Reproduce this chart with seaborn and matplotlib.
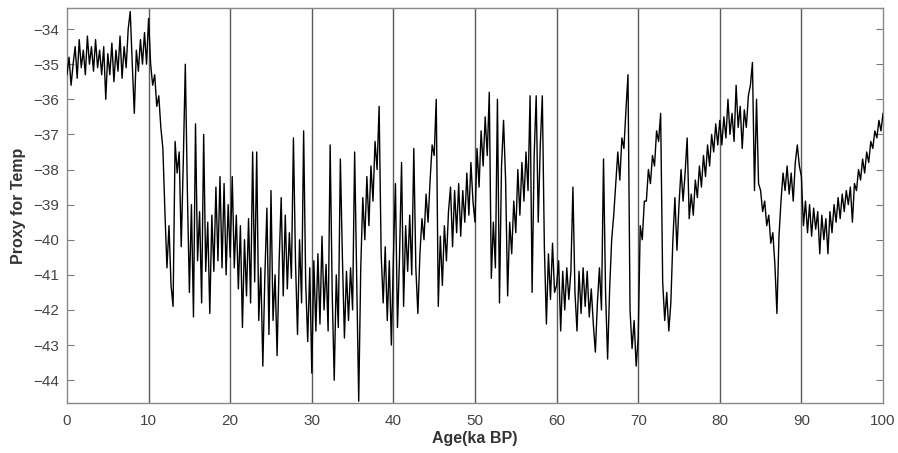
import numpy as np
import matplotlib
matplotlib.use("Agg")
import matplotlib.pyplot as plt
import seaborn as sns

proxy_00_10 = [-35.3, -34.8, -35.6, -35.0, -34.5, -35.4, -34.3, -35.1, -34.6, -35.3,
               -34.2, -35.0, -34.5, -35.2, -34.3, -35.1, -34.6, -35.3, -34.5, -36.0,
               -34.7, -35.3, -34.4, -35.5, -34.6, -35.2, -34.2, -35.4, -34.5, -35.1,
               -34.0, -33.5, -35.0, -36.4, -34.6, -35.2, -34.3, -35.0, -34.1, -35.0]
proxy_10_20 = [-33.7, -35.0, -35.6, -35.3, -36.2, -35.9, -36.8, -37.4, -39.2, -40.8,
               -39.6, -41.3, -41.9, -37.2, -38.1, -37.5, -40.2, -37.8, -35.0, -38.6,
               -41.5, -39.0, -42.2, -36.7, -40.6, -39.2, -41.8, -37.0, -40.9, -39.5,
               -42.1, -39.3, -40.9, -38.5, -40.6, -38.2, -40.8, -38.4, -41.0, -39.0]
proxy_20_30 = [-40.5, -38.2, -40.8, -39.3, -41.4, -39.6, -42.5, -40.0, -41.6, -39.4,
               -41.8, -37.5, -41.2, -37.5, -42.3, -40.8, -43.6, -41.0, -39.1, -42.7,
               -38.6, -42.3, -41.0, -43.3, -40.6, -38.8, -41.6, -39.3, -41.4, -39.8,
               -41.1, -37.1, -40.6, -42.7, -40.0, -41.8, -36.9, -41.2, -42.9, -40.8]
proxy_30_40 = [-43.8, -40.6, -42.6, -40.4, -42.4, -39.9, -42.0, -40.7, -42.6, -37.3,
               -41.5, -44.0, -41.0, -42.5, -37.7, -40.5, -42.8, -40.9, -42.3, -40.8,
               -42.0, -37.5, -41.0, -44.6, -40.8, -38.8, -40.0, -38.2, -39.6, -37.9,
               -38.9, -37.2, -38.0, -36.2, -40.4, -41.8, -40.2, -42.3, -40.6, -43.0]
proxy_40_50 = [-40.5, -38.4, -42.5, -40.5, -37.8, -41.9, -39.6, -40.9, -39.3, -41.0,
               -37.4, -40.8, -42.1, -40.4, -39.4, -40.0, -38.7, -39.5, -38.3, -37.3,
               -37.6, -36.0, -41.9, -39.9, -41.3, -39.6, -40.6, -39.2, -38.5, -40.2,
               -38.6, -39.8, -38.4, -39.9, -38.6, -39.5, -38.1, -39.3, -37.8, -38.9]
proxy_50_60 = [-39.5, -37.4, -38.5, -36.9, -37.9, -36.5, -37.6, -35.8, -41.1, -39.5,
               -40.8, -36.0, -41.8, -37.9, -36.6, -38.3, -41.6, -39.5, -40.4, -38.9,
               -39.8, -38.0, -39.3, -37.8, -38.9, -37.5, -38.6, -35.9, -41.5, -37.6,
               -35.9, -39.5, -37.3, -35.9, -40.2, -42.4, -40.4, -41.7, -40.1, -41.5]
proxy_60_70 = [-41.3, -40.6, -42.6, -40.9, -42.0, -40.8, -41.7, -40.9, -38.5, -41.5,
               -42.6, -40.9, -42.1, -40.8, -41.9, -40.9, -42.2, -41.4, -42.4, -43.2,
               -41.8, -40.8, -42.0, -37.7, -41.5, -43.4, -41.4, -40.0, -39.3, -38.4,
               -37.5, -38.3, -37.1, -37.4, -36.3, -35.3, -42.0, -43.1, -42.3, -43.6]
proxy_70_80 = [-42.8, -39.6, -40.0, -38.9, -38.9, -38.0, -38.4, -37.6, -37.9, -36.9,
               -37.2, -36.4, -41.2, -42.3, -41.5, -42.6, -41.8, -40.0, -38.8, -40.3,
               -39.0, -38.0, -38.9, -38.1, -37.1, -39.4, -38.7, -39.3, -38.3, -38.8,
               -37.9, -38.5, -37.6, -38.2, -37.3, -37.9, -37.0, -37.5, -36.7, -37.3]
proxy_80_90 = [-36.6, -37.3, -36.5, -37.1, -36.0, -37.0, -36.4, -37.2, -35.6, -36.8,
               -36.2, -37.4, -36.3, -36.8, -35.9, -35.6, -34.95, -38.6, -36.0, -38.4,
               -38.6, -39.2, -38.9, -39.6, -39.3, -40.1, -39.8, -40.7, -42.1, -39.9,
               -38.9, -38.1, -38.6, -37.9, -38.7, -38.1, -38.9, -37.8, -37.3, -37.9]
proxy_90_100 = [-38.2, -39.6, -38.9, -39.8, -39.0, -39.9, -39.1, -39.7, -39.2, -40.4,
                -39.3, -40.0, -39.4, -40.4, -39.2, -39.8, -39.0, -39.5, -38.8, -39.4,
                -38.7, -39.2, -38.6, -39.0, -38.5, -39.5, -38.4, -38.6, -38.0, -38.3,
                -37.7, -38.1, -37.5, -37.8, -37.2, -37.4, -36.9, -37.1, -36.6, -36.9,
                -36.4]

proxy = np.array(proxy_00_10 + proxy_10_20 + proxy_20_30 + proxy_30_40 + proxy_40_50
                 + proxy_50_60 + proxy_60_70 + proxy_70_80 + proxy_80_90 + proxy_90_100)
age = np.arange(len(proxy)) * 0.25

x_ticks = [0, 10, 20, 30, 40, 50, 60, 70, 80, 90, 100]
y_ticks = [-44, -43, -42, -41, -40, -39, -38, -37, -36, -35, -34]

sns.set_style("white")
plt.rcParams["font.family"] = ["Liberation Sans", "DejaVu Sans"]

fig = plt.figure(figsize=(8.98, 4.53), dpi=100)
ax = fig.add_axes([0.0746, 0.1104, 0.9087, 0.8719])

# gridlines at every 10 ka
for x in x_ticks[1:-1]:
    ax.axvline(x, color="#5a5a5a", lw=1.0, zorder=1)

sns.lineplot(x=age, y=proxy, estimator=None, sort=False, color="black", lw=1.0, ax=ax, zorder=3)

ax.set_xlim(0, 100)
ax.set_ylim(-44.65, -33.4)
ax.set_xticks(x_ticks)
ax.set_yticks(y_ticks)
ax.tick_params(axis="y", direction="in", length=5, width=0.8, color="#777777",
               labelsize=11, labelcolor="#444444", pad=6, right=True, left=True)
ax.tick_params(axis="x", direction="in", length=0, labelsize=11, labelcolor="#444444", pad=8)
for side in ax.spines.values():
    side.set_color("#888888")
    side.set_linewidth(1.0)

ax.set_xlabel("Age(ka BP)", fontsize=11.5, fontweight="bold", color="#333333", labelpad=2)
ax.set_ylabel("Proxy for Temp", fontsize=11.5, fontweight="bold", color="#333333", labelpad=5)

plt.savefig("out.png", dpi=100)
